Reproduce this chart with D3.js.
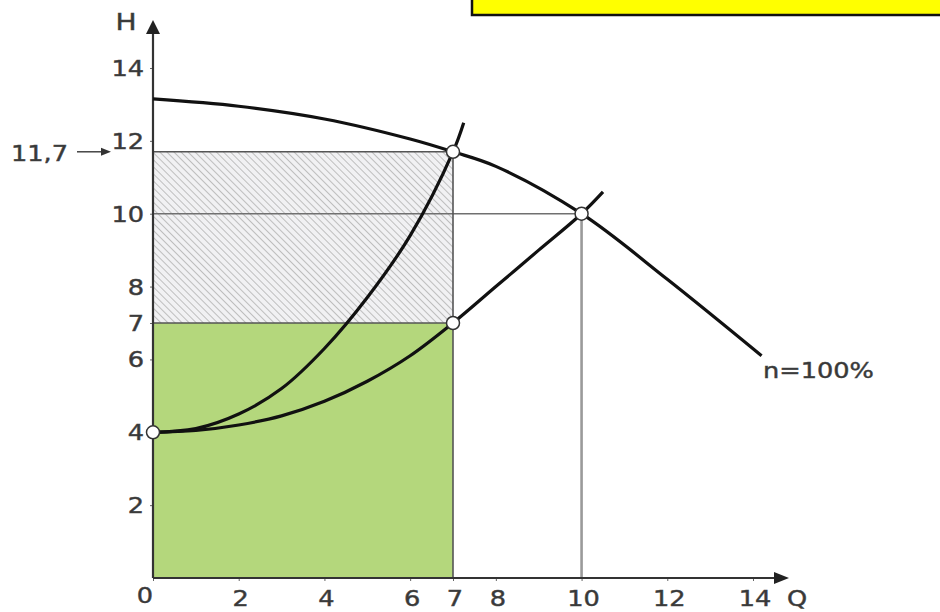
<!DOCTYPE html>
<html>
<head>
<meta charset="utf-8">
<script src="https://cdn.jsdelivr.net/npm/d3@7"></script>
<style>
  body { margin: 0; background: #fff; }
  svg { display: block; }
  text { font-family: "DejaVu Sans", Verdana, sans-serif; fill: #383838; stroke: #444; stroke-width: 0.45; }
</style>
</head>
<body>
<div id="container"></div>
<script>
// tick labels
const xTicks = [0, 2, 4, 6, 7, 8, 10, 12, 14];
const yTicks = [2, 4, 6, 7, 8, 10, 12, 14];

// pump curve n=100%
const pumpQ = [0, 2, 4, 6, 7, 8, 10, 12, 14.2];
const pumpH = [13.15, 12.95, 12.6, 12.05, 11.7, 11.3, 10.0, 8.2, 6.1];

// throttled system curve (steep)
const sysAQ = [0, 1, 2, 3, 4, 5, 6, 7, 7.25];
const sysAH = [4, 4.1, 4.5, 5.2, 6.3, 7.7, 9.4, 11.7, 12.5];

// system curve (speed control)
const sysBQ = [0, 1, 2, 3, 4, 5, 6, 7, 8, 9, 10, 10.5];
const sysBH = [4, 4.05, 4.2, 4.45, 4.85, 5.4, 6.1, 7.0, 8.0, 9.0, 10.0, 10.6];

// operating points
const pointQ = [0, 7, 10, 7];
const pointH = [4, 11.7, 10, 7];

const width = 940;
const height = 612;

const svg = d3.select("#container").append("svg")
  .attr("width", width)
  .attr("height", height);

const x = d3.scaleLinear().domain([0, 14]).range([153, 753]);
const y = d3.scaleLinear().domain([0, 14]).range([578, 68]);
const sx = 1.22; // text in the picture is stretched wide

const defs = svg.append("defs");
const hatch = defs.append("pattern")
  .attr("id", "hatch")
  .attr("patternUnits", "userSpaceOnUse")
  .attr("width", 5).attr("height", 5)
  .attr("patternTransform", "rotate(-45)");
hatch.append("rect").attr("width", 5).attr("height", 5).attr("fill", "#f1f1f3");
hatch.append("line")
  .attr("x1", 0).attr("y1", 0).attr("x2", 0).attr("y2", 5)
  .attr("stroke", "#a8a8a8").attr("stroke-width", 1.4);

// yellow box top right
svg.append("rect")
  .attr("x", 472).attr("y", -4)
  .attr("width", 475).attr("height", 19)
  .attr("fill", "#ffff00")
  .attr("stroke", "#111").attr("stroke-width", 2.5);

// areas
svg.append("rect")
  .attr("x", x(0)).attr("y", y(pointH[1]))
  .attr("width", x(pointQ[3]) - x(0))
  .attr("height", y(pointH[3]) - y(pointH[1]))
  .attr("fill", "url(#hatch)");

svg.append("rect")
  .attr("x", x(0)).attr("y", y(pointH[3]))
  .attr("width", x(pointQ[3]) - x(0))
  .attr("height", y(0) - y(pointH[3]))
  .attr("fill", "#b4d77c");

// reference lines
const refs = [
  { x1: 0, y1: 11.7, x2: 7, y2: 11.7, c: "#555", w: 1.6 },
  { x1: 0, y1: 10, x2: 10, y2: 10, c: "#707070", w: 1.6 },
  { x1: 0, y1: 7, x2: 7, y2: 7, c: "#555", w: 1.6 },
  { x1: 7, y1: 0, x2: 7, y2: 11.7, c: "#555", w: 1.6 },
  { x1: 10, y1: 0, x2: 10, y2: 10, c: "#9a9a9a", w: 2.6 }
];
svg.selectAll("line.ref")
  .data(refs)
  .enter().append("line")
  .attr("class", "ref")
  .attr("x1", d => x(d.x1)).attr("y1", d => y(d.y1))
  .attr("x2", d => x(d.x2)).attr("y2", d => y(d.y2))
  .attr("stroke", d => d.c)
  .attr("stroke-width", d => d.w);

// axes
const xAxis = d3.axisBottom(x).tickValues(xTicks).tickSizeInner(3).tickSizeOuter(0).tickFormat("");
const yAxis = d3.axisLeft(y).tickValues(yTicks).tickSizeInner(3).tickSizeOuter(0).tickFormat("");

svg.append("g")
  .attr("transform", `translate(0,${y(0)})`)
  .call(xAxis)
  .call(g => g.select(".domain").remove())
  .call(g => g.selectAll(".tick line").attr("stroke", "#666"));

svg.append("g")
  .attr("transform", `translate(${x(0)},0)`)
  .call(yAxis)
  .call(g => g.select(".domain").remove())
  .call(g => g.selectAll(".tick line").attr("stroke", "#666"));

svg.append("line")
  .attr("x1", x(0)).attr("y1", y(0))
  .attr("x2", 776).attr("y2", y(0))
  .attr("stroke", "#333").attr("stroke-width", 2.2);
svg.append("path")
  .attr("d", `M789,${y(0)} L774,${y(0) - 6} L774,${y(0) + 6} Z`)
  .attr("fill", "#222");

svg.append("line")
  .attr("x1", x(0)).attr("y1", y(0))
  .attr("x2", x(0)).attr("y2", 32)
  .attr("stroke", "#333").attr("stroke-width", 2.2);
svg.append("path")
  .attr("d", `M${x(0)},20 L${x(0) - 7},34 L${x(0) + 7},34 Z`)
  .attr("fill", "#222");

// tick labels
svg.selectAll("text.xl")
  .data(xTicks)
  .enter().append("text")
  .attr("class", "xl")
  .attr("transform", d => `translate(${x(d) + (d === 0 ? -8 : 2)},${d === 0 ? 603 : 606}) scale(${sx},1)`)
  .attr("text-anchor", "middle")
  .attr("font-size", 21)
  .text(d => d);

svg.selectAll("text.yl")
  .data(yTicks)
  .enter().append("text")
  .attr("class", "yl")
  .attr("transform", d => `translate(144,${y(d) + 8}) scale(${sx},1)`)
  .attr("text-anchor", "end")
  .attr("font-size", 21)
  .text(d => d);

svg.append("text")
  .attr("transform", `translate(126,30) scale(${sx},1)`)
  .attr("text-anchor", "middle")
  .attr("font-size", 23)
  .text("H");

svg.append("text")
  .attr("transform", `translate(797,606) scale(${sx},1)`)
  .attr("text-anchor", "middle")
  .attr("font-size", 21)
  .text("Q");

svg.append("text")
  .attr("transform", `translate(11,${y(11.7) + 9}) scale(${sx},1)`)
  .attr("font-size", 21)
  .text("11,7");
svg.append("line")
  .attr("x1", 77).attr("y1", y(11.7))
  .attr("x2", 103).attr("y2", y(11.7))
  .attr("stroke", "#444").attr("stroke-width", 1.5);
svg.append("path")
  .attr("d", `M111,${y(11.7)} L101,${y(11.7) - 4} L101,${y(11.7) + 4} Z`)
  .attr("fill", "#333");

svg.append("text")
  .attr("transform", `translate(763,378) scale(${sx},1)`)
  .attr("font-size", 21)
  .text("n=100%");

// curves
const line = d3.line()
  .x(d => x(d[0]))
  .y(d => y(d[1]))
  .curve(d3.curveCatmullRom);

const curves = [
  d3.zip(pumpQ, pumpH),
  d3.zip(sysAQ, sysAH),
  d3.zip(sysBQ, sysBH)
];
svg.selectAll("path.curve")
  .data(curves)
  .enter().append("path")
  .attr("class", "curve")
  .attr("fill", "none")
  .attr("stroke", "#111")
  .attr("stroke-width", 3.2)
  .attr("d", line);

// operating points
svg.selectAll("circle.pt")
  .data(d3.zip(pointQ, pointH))
  .enter().append("circle")
  .attr("class", "pt")
  .attr("cx", d => x(d[0]))
  .attr("cy", d => y(d[1]))
  .attr("r", 6.5)
  .attr("fill", "#fff")
  .attr("stroke", "#333")
  .attr("stroke-width", 1.5);
</script>
</body>
</html>
